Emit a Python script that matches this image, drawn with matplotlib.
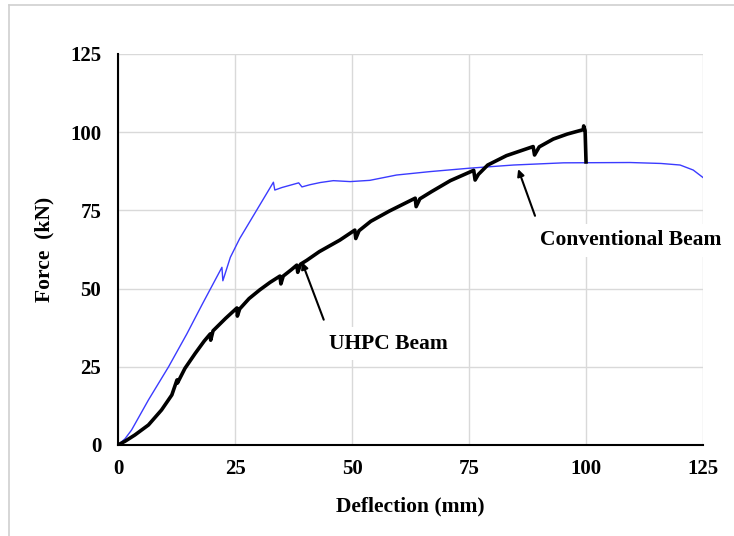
import matplotlib.pyplot as plt
from matplotlib.lines import Line2D

# Conventional beam (blue) - deflection (mm), force (kN)
conv_defl = [0, 1.5, 2.9, 6.5, 10.8, 14.7, 18, 22.2, 22.4, 24, 26, 28, 30, 32,
             33.2, 33.5, 35, 38.6, 39.3, 41, 43.2, 46, 49.6, 53.8, 59.5, 66.7,
             75.2, 84.5, 95.2, 109.4, 116, 120.1, 122.9, 125]
conv_force = [0, 2.0, 4.8, 14.4, 25, 35.5, 45, 56.8, 52.5, 60, 66, 71, 76, 81,
              84, 81.5, 82.3, 83.8, 82.5, 83.2, 83.9, 84.5, 84.2, 84.6, 86.3, 87.4,
              88.5, 89.5, 90.2, 90.3, 90, 89.5, 87.9, 85.5]

# UHPC beam (black)
uhpc_defl = [0, 1.5, 3.6, 6.5, 9.3, 11.5, 12.6, 12.7, 14.3, 16.5, 18.4, 19.7, 19.8,
             20.3, 23, 25.4, 25.5, 26, 28, 30.3, 32.5, 34.6, 34.8, 35.3, 37, 38.2,
             38.4, 39, 40.3, 43, 47.4, 50.6, 50.8, 51.5, 54, 58, 63.5, 63.7, 64.5,
             67, 71, 76, 76.3, 77, 79, 83, 88.7, 89, 90, 93, 96, 99.4, 99.5, 99.8,
             100]
uhpc_force = [0, 1.2, 3.2, 6.4, 11.2, 16, 20.8, 19.8, 24.5, 29.3, 33.2, 35.5, 33.5,
              36.5, 40.5, 43.8, 41.2, 43.5, 46.8, 49.6, 52, 54, 51.5, 54, 56, 57.5,
              55.2, 57.8, 59, 61.8, 65.5, 68.7, 66, 68.5, 71.5, 74.8, 78.9, 76.2,
              78.7, 81, 84.5, 87.8, 84.7, 86.5, 89.5, 92.5, 95.4, 92.7, 95.3, 97.8,
              99.4, 100.8, 102, 100.5, 90.5]

ticks = [0, 25, 50, 75, 100, 125]

plt.rcParams['font.family'] = ['Liberation Serif', 'DejaVu Serif']

fig = plt.figure(figsize=(7.34, 5.36), dpi=100)
ax = fig.add_axes([0.1608, 0.1698, 0.797, 0.7295])

ax.plot(conv_defl, conv_force, color='#3b3bff', lw=1.0, zorder=3)
ax.plot(uhpc_defl, uhpc_force, color='black', lw=2.6, zorder=4,
        solid_joinstyle='round')

ax.set_xlim(0, 125)
ax.set_ylim(0, 125)
ax.set_xticks(ticks)
ax.set_yticks(ticks)
ax.grid(True, color='#d9d9d9', lw=1.0)
ax.set_axisbelow(True)
ax.tick_params(length=0, labelsize=15)
ax.tick_params(axis='x', pad=10)
ax.tick_params(axis='y', pad=12)
for lab in ax.get_xticklabels() + ax.get_yticklabels():
    lab.set_fontweight('bold')

for s in ['top', 'right']:
    ax.spines[s].set_visible(False)
for s in ['left', 'bottom']:
    ax.spines[s].set_linewidth(1.5)

ax.set_xlabel('Deflection (mm)', fontsize=15.5, fontweight='bold', labelpad=13)
ax.set_ylabel('Force  (kN)', fontsize=15.5, fontweight='bold', labelpad=11)

# Annotations
box = dict(boxstyle='square,pad=0.3', fc='white', ec='none')
ax.annotate('Conventional Beam', xy=(85.5, 88.2), xytext=(90.2, 65.5),
            fontsize=15.5, fontweight='bold', va='center', ha='left', bbox=box,
            arrowprops=dict(arrowstyle='-|>', color='black', lw=1.5,
                            mutation_scale=10, shrinkA=6, shrinkB=0,
                            relpos=(0, 1)), zorder=5)
ax.annotate('UHPC Beam', xy=(39.3, 58.5), xytext=(45.1, 32.3),
            fontsize=15.5, fontweight='bold', va='center', ha='left', bbox=box,
            arrowprops=dict(arrowstyle='-|>', color='black', lw=1.5,
                            mutation_scale=10, shrinkA=6, shrinkB=0,
                            relpos=(0, 1)), zorder=5)

# outer frame: only left and top edges visible
fx, fy = 9 / 734, 1 - 5 / 536
fig.add_artist(Line2D([fx, fx], [0, fy], transform=fig.transFigure,
                      color='#d0d0d0', lw=1.2))
fig.add_artist(Line2D([fx, 1], [fy, fy], transform=fig.transFigure,
                      color='#d0d0d0', lw=1.2))

fig.savefig('out.png', dpi=100)
